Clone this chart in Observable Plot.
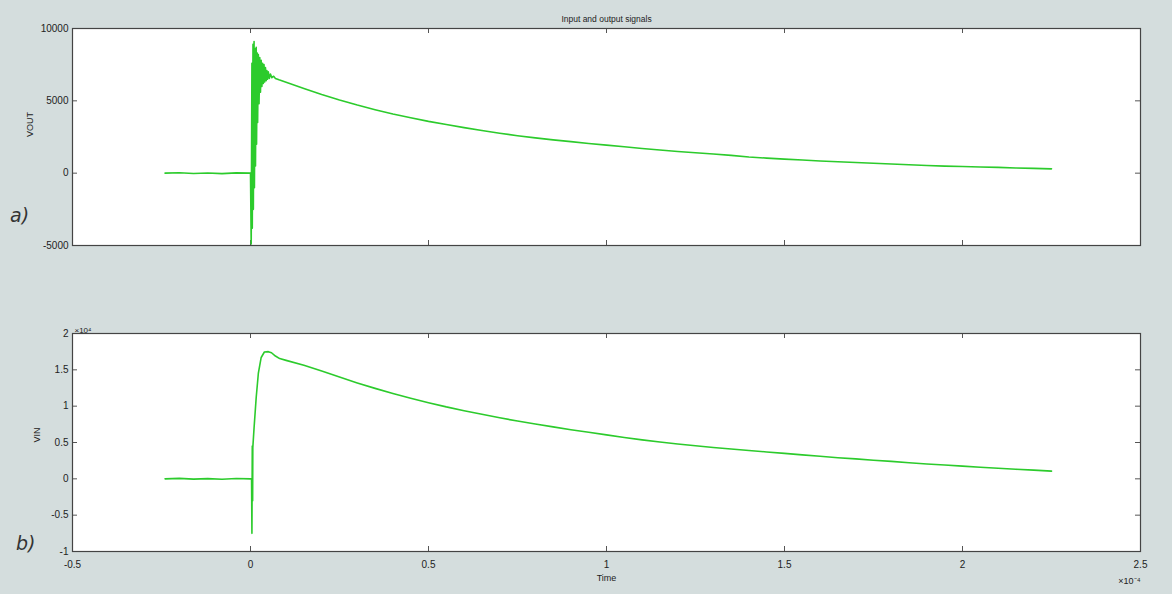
<!DOCTYPE html>
<html><head><meta charset="utf-8">
<script src="https://cdn.jsdelivr.net/npm/d3@7"></script>
<script src="https://cdn.jsdelivr.net/npm/@observablehq/plot@0.6"></script>
<style>
html,body{margin:0;padding:0;background:#d4dddd;}
#wrap{position:relative;width:1172px;height:594px;background:#d4dddd;font-family:"Liberation Sans",Arial,sans-serif;overflow:hidden}
#wrap svg{position:absolute;left:0;background:transparent}
.lab{position:absolute;font-style:italic;font-size:19px;color:#333;font-family:"DejaVu Sans",sans-serif}
</style></head><body><div id="wrap"></div>
<script>
// Time axis in units of 1e-4 s
const xTicks = [-0.5, 0, 0.5, 1, 1.5, 2, 2.5];
const voutTicks = [-5000, 0, 5000, 10000];
const vinTicks = [-10000, -5000, 0, 5000, 10000, 15000, 20000];

const timeOut = [-0.24,-0.2,-0.16,-0.12,-0.08,-0.04,0,
  0.002,0.004,0.005,0.007,0.008,0.010,0.011,0.013,0.014,0.016,0.017,0.019,0.020,0.022,0.024,0.026,0.028,0.030,
  0.032,0.034,0.036,0.038,0.040,0.042,0.044,0.046,0.048,0.050,0.053,0.056,0.060,0.065,0.070,0.080,
  0.1,0.15,0.2,0.25,0.3,0.35,0.4,0.45,0.5,0.55,0.6,0.65,0.7,0.75,0.8,0.85,0.9,0.95,1.0,
  1.05,1.1,1.15,1.2,1.25,1.3,1.35,1.4,1.45,1.5,1.55,1.6,1.65,1.7,1.75,1.8,1.85,1.9,1.95,2.0,
  2.05,2.1,2.15,2.2,2.25];
const vout = [0,30,-20,10,-30,20,0,
  -4900,7600,-3800,8900,-2500,9100,-1000,8600,500,8700,2000,8300,3500,8200,4800,8000,5600,7800,
  6000,7600,6200,7500,6300,7300,6400,7100,6500,7000,6550,6850,6600,6700,6550,6450,
  6280,5850,5440,5060,4710,4390,4090,3830,3580,3360,3150,2950,2760,2590,2440,2300,2180,2050,1940,
  1830,1710,1600,1500,1410,1320,1230,1120,1040,970,905,845,790,740,690,630,580,530,490,460,
  430,400,360,330,300];

const timeIn = [-0.24,-0.2,-0.16,-0.12,-0.08,-0.04,0,
  0.003,0.004,0.005,0.006,0.0065,0.010,0.016,0.022,0.030,0.039,0.050,0.059,0.070,0.082,
  0.1,0.15,0.2,0.25,0.3,0.35,0.4,0.45,0.5,0.55,0.6,0.65,0.7,0.75,0.8,0.85,0.9,0.95,1.0,
  1.05,1.1,1.15,1.2,1.25,1.3,1.35,1.4,1.45,1.5,1.55,1.6,1.65,1.7,1.75,1.8,1.85,1.9,1.95,2.0,
  2.05,2.1,2.15,2.2,2.25];
const vin = [0,60,-40,30,-50,40,0,
  0,-7500,4500,-3000,4300,7000,11200,14500,16700,17450,17500,17350,16900,16550,
  16300,15620,14830,14000,13200,12450,11750,11100,10480,9900,9380,8880,8400,7950,7550,7150,6760,6400,6050,
  5690,5360,5070,4800,4550,4310,4100,3900,3700,3500,3300,3100,2910,2740,2560,2400,2210,2050,1900,1750,
  1600,1460,1320,1200,1060];

const green = "#2ccb2c";
const W = 1172, ML = 72, MR = 32;
const fmt = d => String(d);

function panel({t, v, yDomain, yTicks, yFmt, height, mt, mb, bottom, ylabel, ylabelDx}) {
  const ph = height - mt - mb, pw = W - ML - MR;
  const data = t.map((tt, i) => ({t: tt, v: v[i]}));
  const marks = [
    Plot.frame({fill: "white"}),
    Plot.ruleX(xTicks, {insetTop: ph - 5, stroke: "#555"}),
    Plot.ruleX(xTicks, {insetBottom: ph - 5, stroke: "#555"}),
    Plot.ruleY(yTicks, {insetRight: pw - 5, stroke: "#555"}),
    Plot.ruleY(yTicks, {insetLeft: pw - 5, stroke: "#555"}),
    Plot.line(data, {x: "t", y: "v", stroke: green, strokeWidth: 1.6}),
    Plot.frame({stroke: "#444", strokeWidth: 1.2}),
    Plot.axisY(yTicks, {tickSize: 0, tickPadding: 4, tickFormat: yFmt, label: null}),
    Plot.text([ylabel], {text: d => d, frameAnchor: "left", dx: ylabelDx, rotate: -90, fontSize: 9, fill: "#222"})
  ];
  if (bottom) {
    marks.push(Plot.axisX(xTicks, {tickSize: 0, tickPadding: 9, tickFormat: fmt, label: null}));
    marks.push(Plot.text(["Time"], {text: d => d, frameAnchor: "bottom", dy: 29, fontSize: 9, fill: "#222"}));
    marks.push(Plot.text(["×10⁻⁴"], {text: d => d, frameAnchor: "bottom-right", dy: 32, textAnchor: "end", fontSize: 9, fill: "#222"}));
    marks.push(Plot.text(["×10⁴"], {text: d => d, frameAnchor: "top-left", dy: -6, dx: 2, textAnchor: "start", fontSize: 8, fill: "#222"}));
  } else {
    marks.push(Plot.text(["Input and output signals"], {text: d => d, frameAnchor: "top", dy: -13, fontSize: 8.5, fill: "#222"}));
  }
  return Plot.plot({
    width: W, height, marginLeft: ML, marginRight: MR, marginTop: mt, marginBottom: mb,
    x: {domain: [-0.5, 2.5], ...(bottom ? {} : {axis: null})},
    y: {domain: yDomain},
    style: {fontSize: "10px", fontFamily: "Liberation Sans, Arial, sans-serif", color: "#222", background: "transparent"},
    marks
  });
}

const wrap = document.getElementById("wrap");
const top1 = panel({t: timeOut, v: vout, yDomain: [-5000, 10000], yTicks: voutTicks, yFmt: fmt,
  height: 300, mt: 28, mb: 55, bottom: false, ylabel: "VOUT", ylabelDx: -42});
top1.style.top = "0px";
wrap.appendChild(top1);
const bot = panel({t: timeIn, v: vin, yDomain: [-10000, 20000], yTicks: vinTicks, yFmt: d => String(d / 10000),
  height: 294, mt: 33, mb: 43, bottom: true, ylabel: "VIN", ylabelDx: -35});
bot.style.top = "300px";
wrap.appendChild(bot);

const a = document.createElement("div"); a.className = "lab"; a.textContent = "a)"; a.style.left = "10px"; a.style.top = "204px"; wrap.appendChild(a);
const b = document.createElement("div"); b.className = "lab"; b.textContent = "b)"; b.style.left = "16px"; b.style.top = "532px"; wrap.appendChild(b);
</script></body></html>
